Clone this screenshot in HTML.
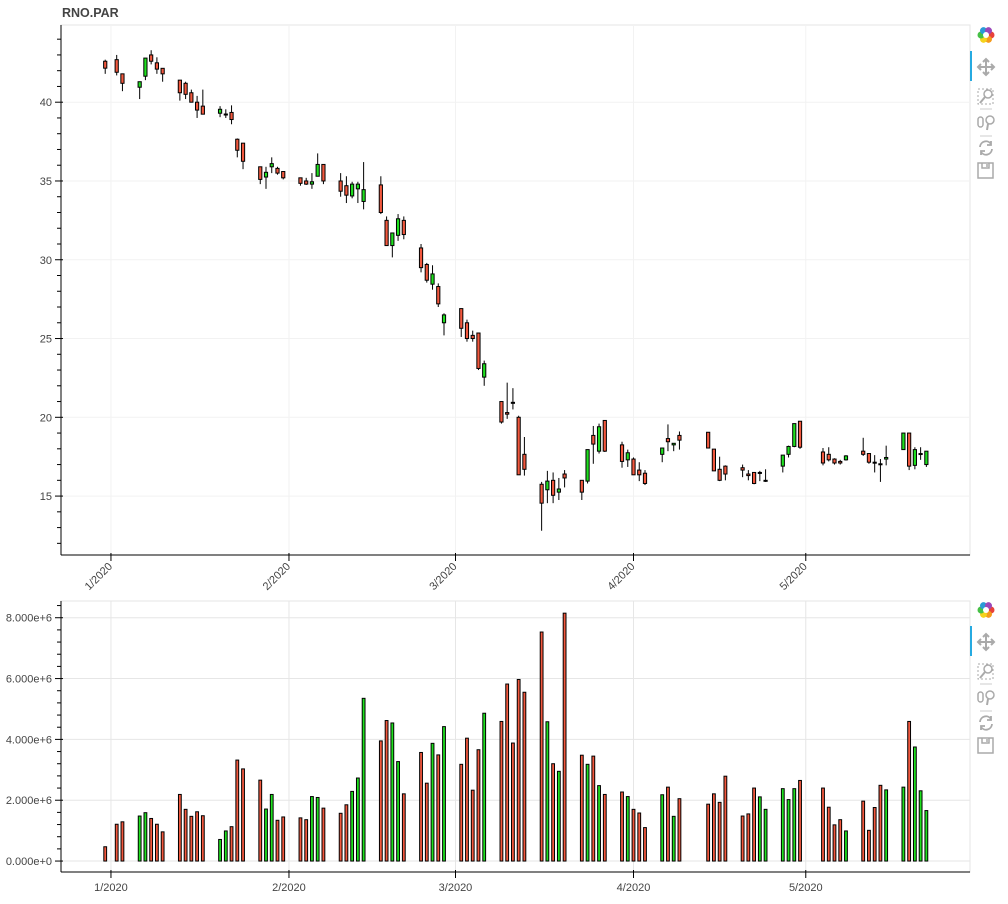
<!DOCTYPE html>
<html>
<head>
<meta charset="utf-8">
<style>
  html,body{margin:0;padding:0;background:#fff;}
  body{width:1008px;height:899px;overflow:hidden;font-family:"Liberation Sans",Arial,sans-serif;}
  svg text{font-family:"Liberation Sans",Arial,sans-serif;}
</style>
</head>
<body>
<svg id="chart" width="1008" height="899" viewBox="0 0 1008 899" xmlns="http://www.w3.org/2000/svg">
  <text x="62" y="17" font-size="12.5" font-weight="bold" fill="#444">RNO.PAR</text>
  <g id="price-panel"></g>
  <g id="volume-panel"></g>
  <g id="toolbars"></g>
</svg>
<script>
// ---------- data ----------
const dayOffsets = [-1,1,2,5,6,7,8,9,12,13,14,15,16,19,20,21,22,23,26,27,28,29,30,33,34,35,36,37,40,41,42,43,44,47,48,49,50,51,54,55,56,57,58,61,62,63,64,65,68,69,70,71,72,75,76,77,78,79,82,83,84,85,86,89,90,91,92,93,96,97,98,99,104,105,106,107,110,111,112,113,114,117,118,119,120,124,125,126,127,128,131,132,133,134,135,138,139,140,141,142];
const opens  = [42.6,42.7,41.8,40.95,41.65,43.0,42.5,42.15,41.4,41.2,40.6,40.0,39.75,39.3,39.2,39.35,37.65,37.4,35.9,35.25,35.9,35.8,35.6,35.2,35.0,34.8,35.3,36.05,35.0,34.7,34.05,34.5,33.7,34.75,32.5,30.9,31.55,32.5,30.75,29.7,28.45,28.3,26.0,26.9,26.0,25.2,25.35,22.55,21.0,20.3,20.95,20.0,17.65,15.75,15.4,16.0,15.25,16.4,16.0,15.95,18.85,17.85,19.8,18.25,17.3,17.35,16.65,16.45,17.65,18.65,18.25,18.85,19.05,17.98,16.7,16.9,16.8,16.4,16.5,16.45,15.95,16.9,17.65,18.15,19.75,17.8,17.65,17.35,17.2,17.3,17.85,17.7,17.15,17.05,17.35,17.95,19.0,16.95,17.65,17.0];
const highs  = [42.7,43.0,41.8,41.3,42.8,43.3,42.85,42.15,41.4,41.3,40.8,40.4,40.8,39.75,39.55,39.8,37.7,37.4,35.9,35.9,36.5,35.9,35.6,35.2,35.2,35.5,36.75,36.05,35.5,35.3,34.95,34.95,36.2,35.3,32.75,31.7,32.9,32.75,31.0,29.8,29.65,28.5,26.6,26.9,26.2,25.5,25.35,23.6,21.0,22.2,21.85,20.1,18.75,15.9,16.6,16.5,16.15,16.65,16.0,17.95,19.45,19.6,19.8,18.45,17.95,17.45,17.15,16.65,18.05,19.55,18.35,19.1,19.05,17.98,17.5,16.95,17.0,16.65,16.5,16.6,16.7,17.6,18.2,19.6,19.75,18.05,18.1,17.4,17.3,17.6,18.7,17.7,17.6,17.35,18.2,19.0,19.0,18.1,18.1,17.85];
const lows   = [41.8,41.7,40.7,40.2,41.4,42.4,41.8,41.3,40.1,40.2,40.0,39.0,39.24,39.05,39.0,38.6,36.5,35.75,34.8,34.5,35.5,35.4,35.1,34.7,34.75,34.5,35.3,34.8,34.0,33.6,33.9,33.6,33.2,32.9,30.9,30.15,31.2,31.3,29.2,28.55,28.1,27.0,25.2,25.1,24.8,24.8,23.0,22.0,19.6,19.9,20.5,16.35,16.3,12.8,14.55,14.55,14.75,15.55,14.75,15.8,17.05,17.7,17.8,16.8,16.85,16.35,15.95,15.7,17.15,17.85,17.85,17.95,18.05,16.6,15.95,16.0,16.2,16.0,15.75,15.95,15.9,16.5,17.45,18.1,18.0,16.95,17.2,17.0,17.0,17.25,17.55,17.05,16.5,15.9,16.95,17.95,16.65,16.7,17.3,16.85];
const closes = [42.16,41.9,41.2,41.3,42.8,42.6,42.1,41.8,40.6,40.5,40.0,39.5,39.24,39.55,39.25,38.9,36.95,36.25,35.1,35.55,36.1,35.5,35.2,34.85,34.8,34.95,36.05,35.0,34.35,34.1,34.8,34.8,34.45,33.0,30.9,31.7,32.6,31.6,29.5,28.7,29.1,27.2,26.5,25.65,25.0,25.0,23.1,23.4,19.7,20.2,20.9,16.35,16.7,14.55,15.95,15.05,15.45,16.15,15.25,17.95,18.3,19.4,17.85,17.2,17.75,16.35,16.35,15.8,18.05,18.45,18.35,18.55,18.05,16.6,16.0,16.4,16.65,16.3,15.8,16.5,16.0,17.6,18.15,19.6,18.1,17.1,17.3,17.1,17.1,17.55,17.65,17.15,17.1,17.0,17.45,19.0,16.9,17.95,17.7,17.85];
const volumes = [0.47,1.21,1.29,1.48,1.59,1.40,1.21,0.96,2.19,1.70,1.47,1.62,1.49,0.71,0.99,1.13,3.32,3.03,2.66,1.71,2.19,1.34,1.45,1.42,1.36,2.12,2.09,1.74,1.57,1.85,2.29,2.73,5.35,3.95,4.62,4.54,3.27,2.21,3.57,2.56,3.87,3.49,4.42,3.18,4.04,2.33,3.66,4.86,4.59,5.82,3.88,5.97,5.55,7.53,4.58,3.20,2.95,8.15,3.48,3.18,3.45,2.48,2.19,2.27,2.12,1.70,1.58,1.10,2.18,2.43,1.47,2.05,1.87,2.21,1.93,2.79,1.48,1.55,2.40,2.11,1.70,2.38,2.02,2.38,2.65,2.40,1.77,1.19,1.36,0.99,1.97,1.01,1.76,2.49,2.34,2.43,4.59,3.75,2.31,1.66].map(v => v * 1e6);
const monthTicks = [0, 31, 60, 91, 121];
const monthLabels = ["1/2020", "2/2020", "3/2020", "4/2020", "5/2020"];
const priceTicks = [15, 20, 25, 30, 35, 40];
const volumeTicks = [0, 2e6, 4e6, 6e6, 8e6];

// ---------- layout ----------
const NS = "http://www.w3.org/2000/svg";
const L = 61, R = 970;
const P = {top: 25, bottom: 555, min: 11.26, max: 44.9};
const V = {top: 601, bottom: 872, min: -0.36e6, max: 8.55e6};
const D = {min: -8.7, max: 149.6};
const RED = "#f2583e", GREEN = "#1fe01f";

function xScale(d){ return L + (d - D.min) / (D.max - D.min) * (R - L); }
function yP(v){ return P.bottom - (v - P.min) / (P.max - P.min) * (P.bottom - P.top); }
function yV(v){ return V.bottom - (v - V.min) / (V.max - V.min) * (V.bottom - V.top); }

function el(tag, attrs, parent){
  const e = document.createElementNS(NS, tag);
  for (const k in attrs) e.setAttribute(k, attrs[k]);
  parent.appendChild(e);
  return e;
}

const pricePanel = document.getElementById("price-panel");
const volumePanel = document.getElementById("volume-panel");
const toolbars = document.getElementById("toolbars");

function frame(panel, top, bottom, gridColor, nameBase){
  const bg = el("rect", {x: L, y: top, width: R - L, height: bottom - top, fill: "#fff", stroke: "#e5e5e5", "stroke-width": 1}, panel);
  
  
  monthTicks.forEach((d) => {
    const g = el("line", {x1: xScale(d), x2: xScale(d), y1: top, y2: bottom, stroke: gridColor, "stroke-width": 1}, panel);
    
    
  });
}

// ---------- price panel ----------
frame(pricePanel, P.top, P.bottom, "#f2f2f2", "price");
priceTicks.forEach((t) => {
  const g = el("line", {x1: L, x2: R, y1: yP(t), y2: yP(t), stroke: "#f2f2f2", "stroke-width": 1}, pricePanel);
  
  
});
for (let v = 12; v <= 44; v++) {
  const major = v % 5 === 0;
  const t = el("line", {x1: major ? L - 6 : L - 4, x2: major ? L + 2 : L, y1: yP(v), y2: yP(v), stroke: "#000", "stroke-width": 1}, pricePanel);
  
  
}
priceTicks.forEach((t) => {
  const tx = el("text", {x: L - 9, y: yP(t) + 4, "font-size": 11, fill: "#444", "text-anchor": "end"}, pricePanel);
  tx.textContent = String(t);
  
  
});
const pAxisY = el("line", {x1: L, x2: L, y1: P.top, y2: P.bottom, stroke: "#000", "stroke-width": 1}, pricePanel);


const pAxisX = el("line", {x1: L, x2: R, y1: P.bottom, y2: P.bottom, stroke: "#000", "stroke-width": 1}, pricePanel);


monthTicks.forEach((d, i) => {
  const x = xScale(d);
  const t = el("line", {x1: x, x2: x, y1: P.bottom - 2, y2: P.bottom + 6, stroke: "#000", "stroke-width": 1}, pricePanel);
  
  
  const tx = el("text", {x: x + 2, y: P.bottom + 12, "font-size": 11, fill: "#444", "text-anchor": "end", transform: `rotate(-45 ${x + 2} ${P.bottom + 12})`}, pricePanel);
  tx.textContent = monthLabels[i];
  
  
});

const bw = 3.2;
dayOffsets.forEach((d, i) => {
  const x = xScale(d);
  const up = closes[i] >= opens[i];
  const w = el("line", {x1: x, x2: x, y1: yP(highs[i]), y2: yP(lows[i]), stroke: "#000", "stroke-width": 1}, pricePanel);
  
  
  const top = yP(Math.max(opens[i], closes[i]));
  const h = Math.max(1, yP(Math.min(opens[i], closes[i])) - top);
  const b = el("rect", {x: x - bw / 2, y: top, width: bw, height: h, fill: up ? GREEN : RED, stroke: "#000", "stroke-width": 1}, pricePanel);
  
  
});

// ---------- volume panel ----------
frame(volumePanel, V.top, V.bottom, "#e6e6e6", "volume");
volumeTicks.forEach((t) => {
  const g = el("line", {x1: L, x2: R, y1: yV(t), y2: yV(t), stroke: "#e6e6e6", "stroke-width": 1}, volumePanel);
  
  
});
for (let v = 0; v <= 8.4e6; v += 0.4e6) {
  const major = Math.abs(v / 2e6 - Math.round(v / 2e6)) < 1e-6;
  const t = el("line", {x1: major ? L - 6 : L - 4, x2: major ? L + 2 : L, y1: yV(v), y2: yV(v), stroke: "#000", "stroke-width": 1}, volumePanel);
  
  
}
volumeTicks.forEach((t) => {
  const tx = el("text", {x: L - 9, y: yV(t) + 4, "font-size": 11, fill: "#444", "text-anchor": "end"}, volumePanel);
  tx.textContent = (t / 1e6).toFixed(3) + "e+" + (t === 0 ? 0 : 6);
  
  
});
const vAxisY = el("line", {x1: L, x2: L, y1: V.top, y2: V.bottom, stroke: "#000", "stroke-width": 1}, volumePanel);


const vAxisX = el("line", {x1: L, x2: R, y1: V.bottom, y2: V.bottom, stroke: "#000", "stroke-width": 1}, volumePanel);


monthTicks.forEach((d, i) => {
  const x = xScale(d);
  const t = el("line", {x1: x, x2: x, y1: V.bottom - 2, y2: V.bottom + 6, stroke: "#000", "stroke-width": 1}, volumePanel);
  
  
  const tx = el("text", {x: x, y: V.bottom + 19, "font-size": 11, fill: "#444", "text-anchor": "middle"}, volumePanel);
  tx.textContent = monthLabels[i];
  
  
});
const vbw = 2.8;
dayOffsets.forEach((d, i) => {
  const x = xScale(d);
  const up = closes[i] >= opens[i];
  const top = yV(volumes[i]);
  const b = el("rect", {x: x - vbw / 2, y: top, width: vbw, height: yV(0) - top, fill: up ? GREEN : RED, stroke: "#000", "stroke-width": 1}, volumePanel);
  
  
});

// ---------- toolbars ----------
function toolbar(y0, name){
  const g = el("g", {transform: `translate(0 ${y0})`}, toolbars);
  
  
  const logoColors = ["#e8413a", "#f59b1c", "#f5d31c", "#46c046", "#2a9ad6", "#9b47b9"];
  logoColors.forEach((c, k) => {
    const a = (k * 60) * Math.PI / 180;
    const lg = el("circle", {cx: 986 + 5 * Math.cos(a), cy: 10 + 5 * Math.sin(a), r: 3.5, fill: c}, g);
    
    
  });
  const hole = el("circle", {cx: 986, cy: 10, r: 3, fill: "#fff"}, g);
  
  
  const active = el("rect", {x: 970, y: 26, width: 2, height: 30, fill: "#26aae1"}, g);
  
  
  const pan = el("path", {d: "M986 34 v16 M978 42 h16 M983 37 l3-3 3 3 M983 47 l3 3 3-3 M981 39 l-3 3 3 3 M991 39 l3 3-3 3", stroke: "#aaa", "stroke-width": 2, fill: "none"}, g);
  
  
  const bz = el("g", {}, g);
  
  
  el("rect", {x: 978, y: 64, width: 15, height: 15, stroke: "#aaa", "stroke-dasharray": "2 2", fill: "none"}, bz);
  el("circle", {cx: 988, cy: 69, r: 4, stroke: "#aaa", "stroke-width": 1.5, fill: "#fff"}, bz);
  el("line", {x1: 985, y1: 72, x2: 980, y2: 78, stroke: "#aaa", "stroke-width": 2}, bz);
  const sep1 = el("line", {x1: 980, x2: 992, y1: 84, y2: 84, stroke: "#ccc"}, g);
  
  
  const wz = el("g", {}, g);
  
  
  el("rect", {x: 978, y: 92, width: 5, height: 10, rx: 2.5, stroke: "#aaa", "stroke-width": 1.5, fill: "none"}, wz);
  el("circle", {cx: 990, cy: 95, r: 4, stroke: "#aaa", "stroke-width": 1.5, fill: "none"}, wz);
  el("line", {x1: 988, y1: 99, x2: 987, y2: 105, stroke: "#aaa", "stroke-width": 2}, wz);
  const sep2 = el("line", {x1: 980, x2: 992, y1: 111, y2: 111, stroke: "#ccc"}, g);
  
  
  const rs = el("path", {d: "M980 122 a6 6 0 0 1 11-3 M992 124 a6 6 0 0 1-11 3 M991 116 v4 h-4 M981 130 v-4 h4", stroke: "#aaa", "stroke-width": 1.8, fill: "none"}, g);
  
  
  const sv = el("path", {d: "M978 138 h15 v15 h-15 z M982 138 v5 h7 v-5 M987 139 v3", stroke: "#aaa", "stroke-width": 1.5, fill: "none"}, g);
  
  
}
toolbar(25, "price-toolbar");
toolbar(600, "volume-toolbar");
</script>
</body>
</html>
